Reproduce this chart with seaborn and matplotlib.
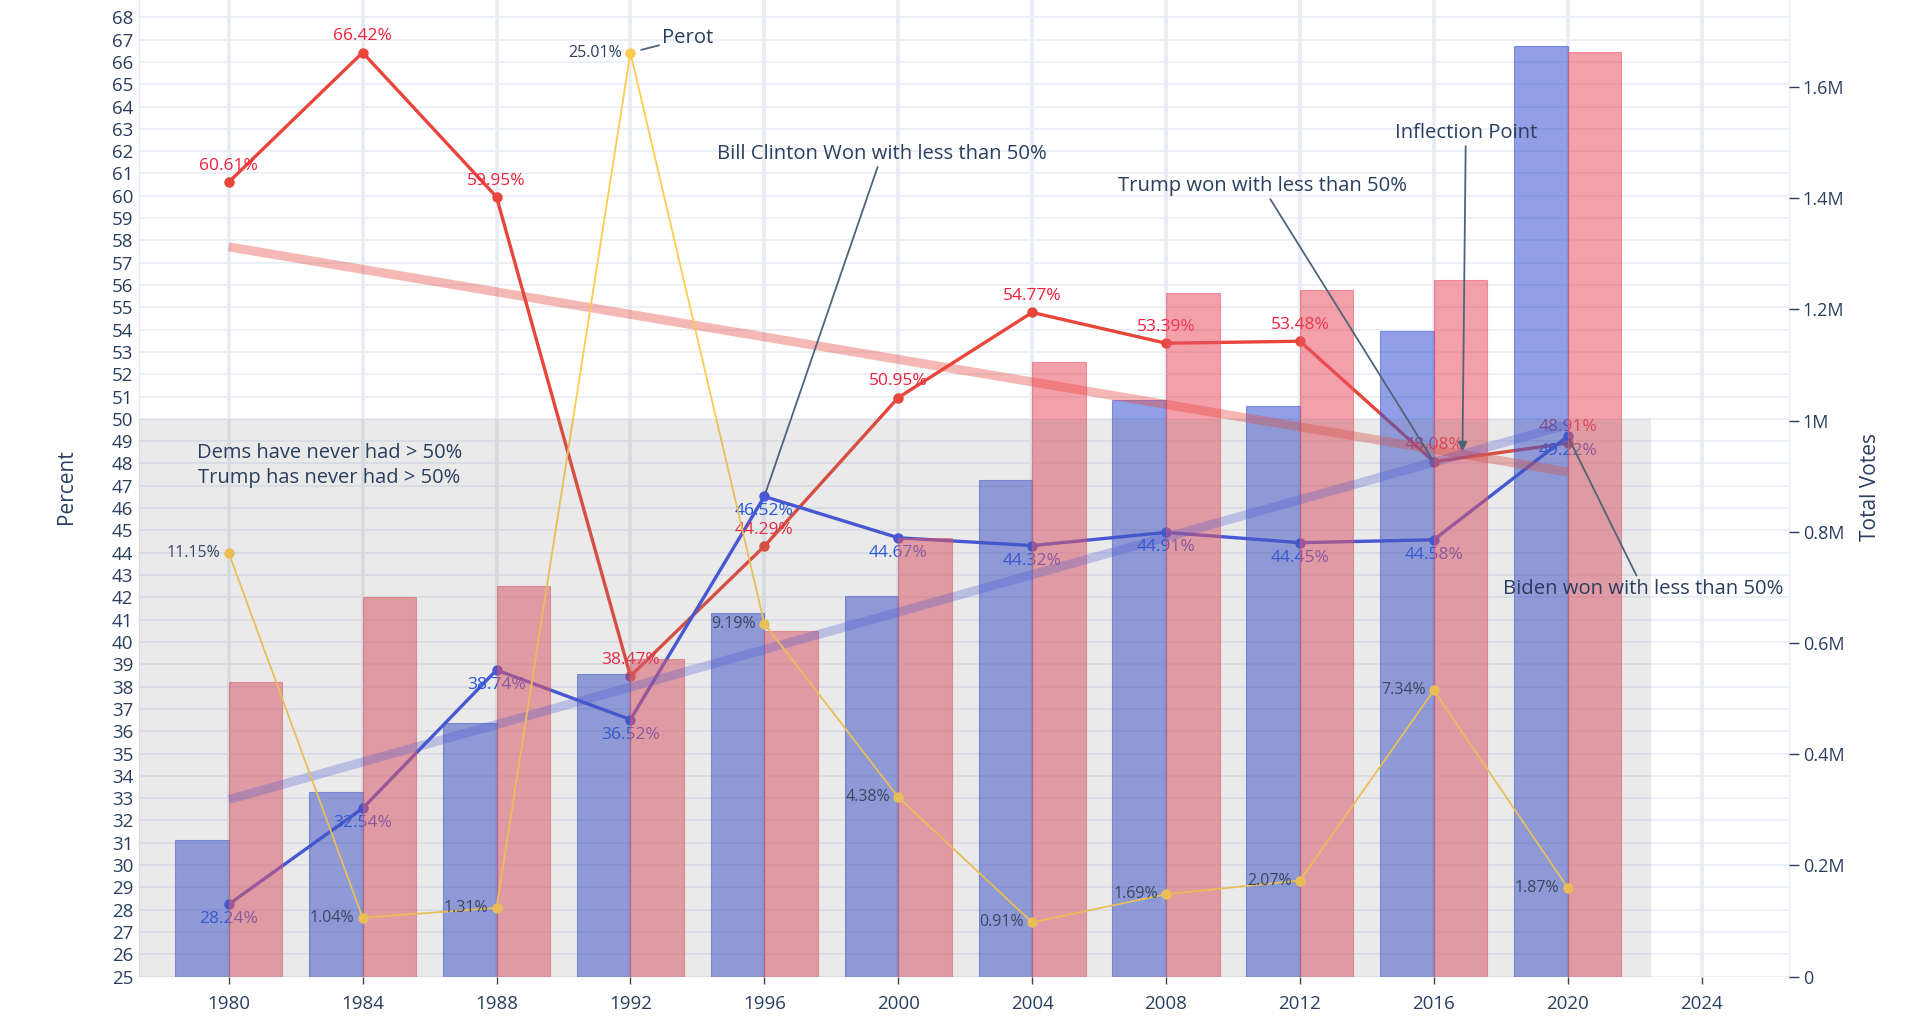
import numpy as np
import pandas as pd
import matplotlib
matplotlib.use("Agg")
import matplotlib.pyplot as plt
import seaborn as sns
from matplotlib.patches import Rectangle

# ---------------- data ----------------
years = [1980, 1984, 1988, 1992, 1996, 2000, 2004, 2008, 2012, 2016, 2020]
rep_pct = [60.61, 66.42, 59.95, 38.47, 44.29, 50.95, 54.77, 53.39, 53.48, 48.08, 48.91]
dem_pct = [28.24, 32.54, 38.74, 36.52, 46.52, 44.67, 44.32, 44.91, 44.45, 44.58, 49.22]
third_pct = [11.15, 1.04, 1.31, 25.01, 9.19, 4.38, 0.91, 1.69, 2.07, 7.34, 1.87]
dem_votes = [246e3, 332e3, 456e3, 544e3, 654e3, 685e3, 894e3, 1037e3, 1026e3, 1162e3, 1673e3]
rep_votes = [530e3, 682e3, 702e3, 572e3, 621e3, 788e3, 1105e3, 1230e3, 1235e3, 1252e3, 1662e3]
x_ticks = [1980, 1984, 1988, 1992, 1996, 2000, 2004, 2008, 2012, 2016, 2020, 2024]
pct_ticks = list(range(25, 69))
vote_ticks = [0, 0.2e6, 0.4e6, 0.6e6, 0.8e6, 1.0e6, 1.2e6, 1.4e6, 1.6e6]
vote_tick_labels = ["0", "0.2M", "0.4M", "0.6M", "0.8M", "1M", "1.2M", "1.4M", "1.6M"]

# ---------------- style ----------------
sns.set_style("white")
plt.rcParams["font.family"] = ["Open Sans", "DejaVu Sans"]

TXT = "#2a3f5f"
GRID = "#E7ECF5"
ARROW = "#4f6479"
REP_LINE = "#E8463A"
DEM_LINE = "#3D4FE3"
REP_TEXT = "#F2203A"
DEM_TEXT = "#1652F0"
THIRD = "#FECB52"
DEM_BAR = "#3750D2"
REP_BAR = "#EB5264"

W, H = 1920, 1024
fig = plt.figure(figsize=(W / 100, H / 100), dpi=100)
left_px, right_px, bottom_px = 139, 1789, 976.6
ax = fig.add_axes([left_px / W, 1 - bottom_px / H, (right_px - left_px) / W, bottom_px / H])
ax_votes = ax.twinx()
ax_trend = ax.twinx()
ax_third = ax.twinx()

XLIM = (1977.32, 2026.61)
PLIM = (25, 68.775)

# ---------------- percent lines (under the bars) ----------------
sns.lineplot(x=years, y=rep_pct, ax=ax, color=REP_LINE, lw=2.4, marker="o",
             markersize=7.5, markeredgewidth=0, zorder=3)
sns.lineplot(x=years, y=dem_pct, ax=ax, color=DEM_LINE, lw=2.4, marker="o",
             markersize=7.5, markeredgewidth=0, zorder=3)
for yr, v in zip(years, rep_pct):
    ax.annotate(f"{v:.2f}%", (yr, v), xytext=(0, 6), textcoords="offset points",
                ha="center", va="bottom", color=REP_TEXT, fontsize=12.5, zorder=4)
for yr, v in zip(years, dem_pct):
    ax.annotate(f"{v:.2f}%", (yr, v), xytext=(0, -5), textcoords="offset points",
                ha="center", va="top", color=DEM_TEXT, fontsize=12.5, zorder=4)

# ---------------- vote bars ----------------
df_votes = pd.DataFrame({
    "year": years * 2,
    "votes": dem_votes + rep_votes,
    "party": ["Dem"] * len(years) + ["Rep"] * len(years),
})
sns.barplot(data=df_votes, x="year", y="votes", hue="party", hue_order=["Dem", "Rep"],
            palette={"Dem": DEM_BAR, "Rep": REP_BAR}, native_scale=True, width=0.8,
            dodge=True, errorbar=None, saturation=1, alpha=0.55, legend=False, ax=ax_votes)
for p in ax_votes.patches:
    fc = p.get_facecolor()
    p.set_edgecolor((fc[0], fc[1], fc[2], 0.35))
    p.set_linewidth(0.8)

# ---------------- trend lines (above the bars) ----------------
sns.regplot(x=years, y=rep_pct, ax=ax_trend, scatter=False, ci=None, color=REP_LINE,
            line_kws={"lw": 6.5, "alpha": 0.38, "solid_capstyle": "butt"})
sns.regplot(x=years, y=dem_pct, ax=ax_trend, scatter=False, ci=None, color=DEM_LINE,
            line_kws={"lw": 6.5, "alpha": 0.29, "solid_capstyle": "butt"})

# ---------------- third party line ----------------
sns.lineplot(x=years, y=third_pct, ax=ax_third, color=THIRD, lw=1.3, marker="o",
             markersize=7.5, markeredgewidth=0, zorder=3)
for yr, v in zip(years, third_pct):
    ax_third.annotate(f"{v:.2f}%", (yr, v), xytext=(-6, 0), textcoords="offset points",
                      ha="right", va="center", color=TXT, fontsize=11.5, zorder=4)

# ---------------- grey overlay ----------------
ax_third.add_patch(Rectangle((XLIM[0], 25), 2022.5 - XLIM[0], 25, transform=ax.transData,
                             facecolor="#808080", alpha=0.165, lw=0, zorder=5))
ax_third.text(1983.0, 47.9, "Dems have never had > 50%\nTrump has never had > 50%",
              transform=ax.transData, ha="center", va="center", multialignment="center",
              fontsize=14.5, color=TXT, linespacing=1.3, zorder=6)

# ---------------- annotations ----------------
def note(text, xy, xytext, xycoords, head=False, shrinkB=3):
    ax_third.annotate(
        text, xy=xy, xycoords=xycoords, xytext=xytext, textcoords=ax.transData,
        ha="center", va="center", fontsize=14.6, color=TXT, zorder=7,
        arrowprops=dict(arrowstyle="-|>" if head else "-", color=ARROW, lw=1.3,
                        shrinkA=0, shrinkB=shrinkB, mutation_scale=14))

note("Perot", (1992, 25.01), (1993.72, 67.08), ax_third.transData, shrinkB=8)
note("Bill Clinton Won with less than 50%", (1996, 46.52), (1999.52, 61.88), ax.transData)
note("Trump won with less than 50%", (2016, 48.08), (2010.87, 60.44), ax.transData)
pr = np.polyfit(years, rep_pct, 1)
pd_ = np.polyfit(years, dem_pct, 1)
x_int = (pd_[1] - pr[1]) / (pr[0] - pd_[0])
y_int = np.polyval(pr, x_int)
note("Inflection Point", (x_int, y_int), (x_int + 0.1, 62.82), ax.transData, head=True, shrinkB=2)
note("Biden won with less than 50%", (2020, 49.22), (2022.25, 42.38), ax.transData)

# ---------------- axes ----------------
ax.set_xlim(*XLIM)
ax.set_ylim(*PLIM)
ax_trend.set_ylim(*PLIM)
ax_votes.set_ylim(0, 1.7564e6)
ax_third.set_ylim(-0.593, 26.47)

ax.set_xticks(x_ticks)
ax.set_xticklabels([str(t) for t in x_ticks])
ax.set_yticks(pct_ticks)
ax.set_yticklabels([str(t) for t in pct_ticks])
ax.set_axisbelow(True)
ax.xaxis.grid(True, color=GRID, lw=2.6)
ax.yaxis.grid(True, color=GRID, lw=1.2)
ax.tick_params(axis="x", length=5, width=1, color="#444444", pad=8,
               labelsize=13.5, labelcolor=TXT, bottom=True)
ax.tick_params(axis="y", length=0, pad=4, labelsize=13.5, labelcolor=TXT, left=True)
for s in ["top", "bottom"]:
    ax.spines[s].set_visible(False)
for s in ["left", "right"]:
    ax.spines[s].set_color(GRID)
    ax.spines[s].set_linewidth(1)
ax.set_xlabel("")
ax.set_ylabel("")

ax_votes.set_yticks(vote_ticks)
ax_votes.set_yticklabels(vote_tick_labels)
ax_votes.tick_params(axis="y", length=7, width=1, color=TXT, pad=3, labelsize=13,
                     labelcolor=TXT, right=True)
ax_votes.set_xlabel("")
ax_votes.set_ylabel("")
ax_votes.grid(False)
for s in ax_votes.spines.values():
    s.set_visible(False)

for a in (ax_trend, ax_third):
    a.set_yticks([])
    a.set_xlabel("")
    a.set_ylabel("")
    a.grid(False)
    for s in a.spines.values():
        s.set_visible(False)

fig.text(67 / W, 1 - 487 / H, "Percent", rotation=90, ha="center", va="center",
         fontsize=15, color=TXT)
fig.text(1871 / W, 1 - 487 / H, "Total Votes", rotation=90, ha="center", va="center",
         fontsize=15, color=TXT)

fig.savefig("out.png", dpi=100)
